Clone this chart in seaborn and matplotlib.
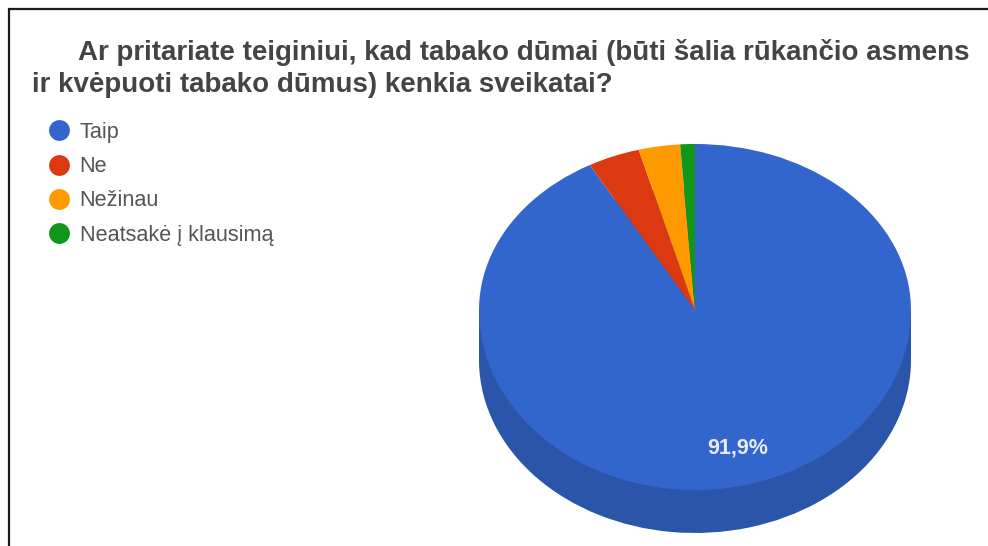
import matplotlib
matplotlib.use("Agg")
import matplotlib.pyplot as plt
from matplotlib.lines import Line2D
from matplotlib.patches import Rectangle
import numpy as np
import seaborn as sns

# duomenys
atsakymai = ["Taip", "Ne", "Nežinau", "Neatsakė į klausimą"]
procentai = [91.9, 3.9, 3.1, 1.1]
spalvos = ["#3366cc", "#dc3912", "#ff9900", "#109618"]
sonas = "#2a55a8"

sns.set_theme(style="white")
plt.rcParams["font.family"] = ["Liberation Sans", "DejaVu Sans"]

W, H = 988, 546
fig = plt.figure(figsize=(W / 100, H / 100), dpi=100, facecolor="white")

# remelis
fig.add_artist(Rectangle((9 / W, -0.02), 1.02, 1.02 - 9 / H, transform=fig.transFigure,
                         fill=False, edgecolor="#1a1a1a", linewidth=1.6))

# pavadinimas
fig.text(78 / W, 1 - 52 / H, "Ar pritariate teiginiui, kad tabako dūmai (būti šalia rūkančio asmens",
         fontsize=20, fontweight="bold", color="#444444", va="center")
fig.text(32 / W, 1 - 85 / H, "ir kvėpuoti tabako dūmus) kenkia sveikatai?",
         fontsize=20, fontweight="bold", color="#444444", va="center")

# 3D imitacija: pie + tamsus sonas
gylis = 43 / 173
centras = 7 / 173  # perspektyva: centras auksciau elipses vidurio
ax = fig.add_axes([479 / W, 1 - 533 / H, 432 / W, 389 / H])
ax.pie(procentai, colors=[sonas], radius=1, center=(0, -gylis), startangle=90, counterclock=False,
       wedgeprops=dict(linewidth=0))
ax.add_patch(Rectangle((-1, -gylis), 2, gylis + centras, color=sonas, linewidth=0))


def etikete(p):
    return f"{p:.1f}%".replace(".", ",") if p > 5 else ""


wedges, _, auto = ax.pie(procentai, colors=spalvos, radius=1, startangle=90, counterclock=False,
                         autopct=etikete, pctdistance=0.78, wedgeprops=dict(linewidth=0),
                         textprops=dict(color="#e6ecfa", fontsize=15.5, fontweight="bold"))
for w in wedges:
    p = w.get_path()
    v = p.vertices.copy()
    v[:, 1] = centras + v[:, 1] * np.where(v[:, 1] >= 0, 1 - centras, 1 + centras)
    p.vertices = v

ax.set_aspect("auto")
ax.set_xlim(-1, 1)
ax.set_ylim(-1 - gylis, 1)
ax.axis("off")

# legenda
rankenos = [Line2D([], [], linestyle="", marker="o", markersize=15, color=c, markeredgewidth=0)
            for c in spalvos]
fig.legend(rankenos, atsakymai, loc="upper left", bbox_to_anchor=(44 / W, 1 - 122 / H),
           frameon=False, fontsize=15.6, labelcolor="#555555", labelspacing=0.61,
           handletextpad=0.28, borderpad=0, borderaxespad=0, handlelength=1.36)

fig.savefig("out.png", dpi=100)
